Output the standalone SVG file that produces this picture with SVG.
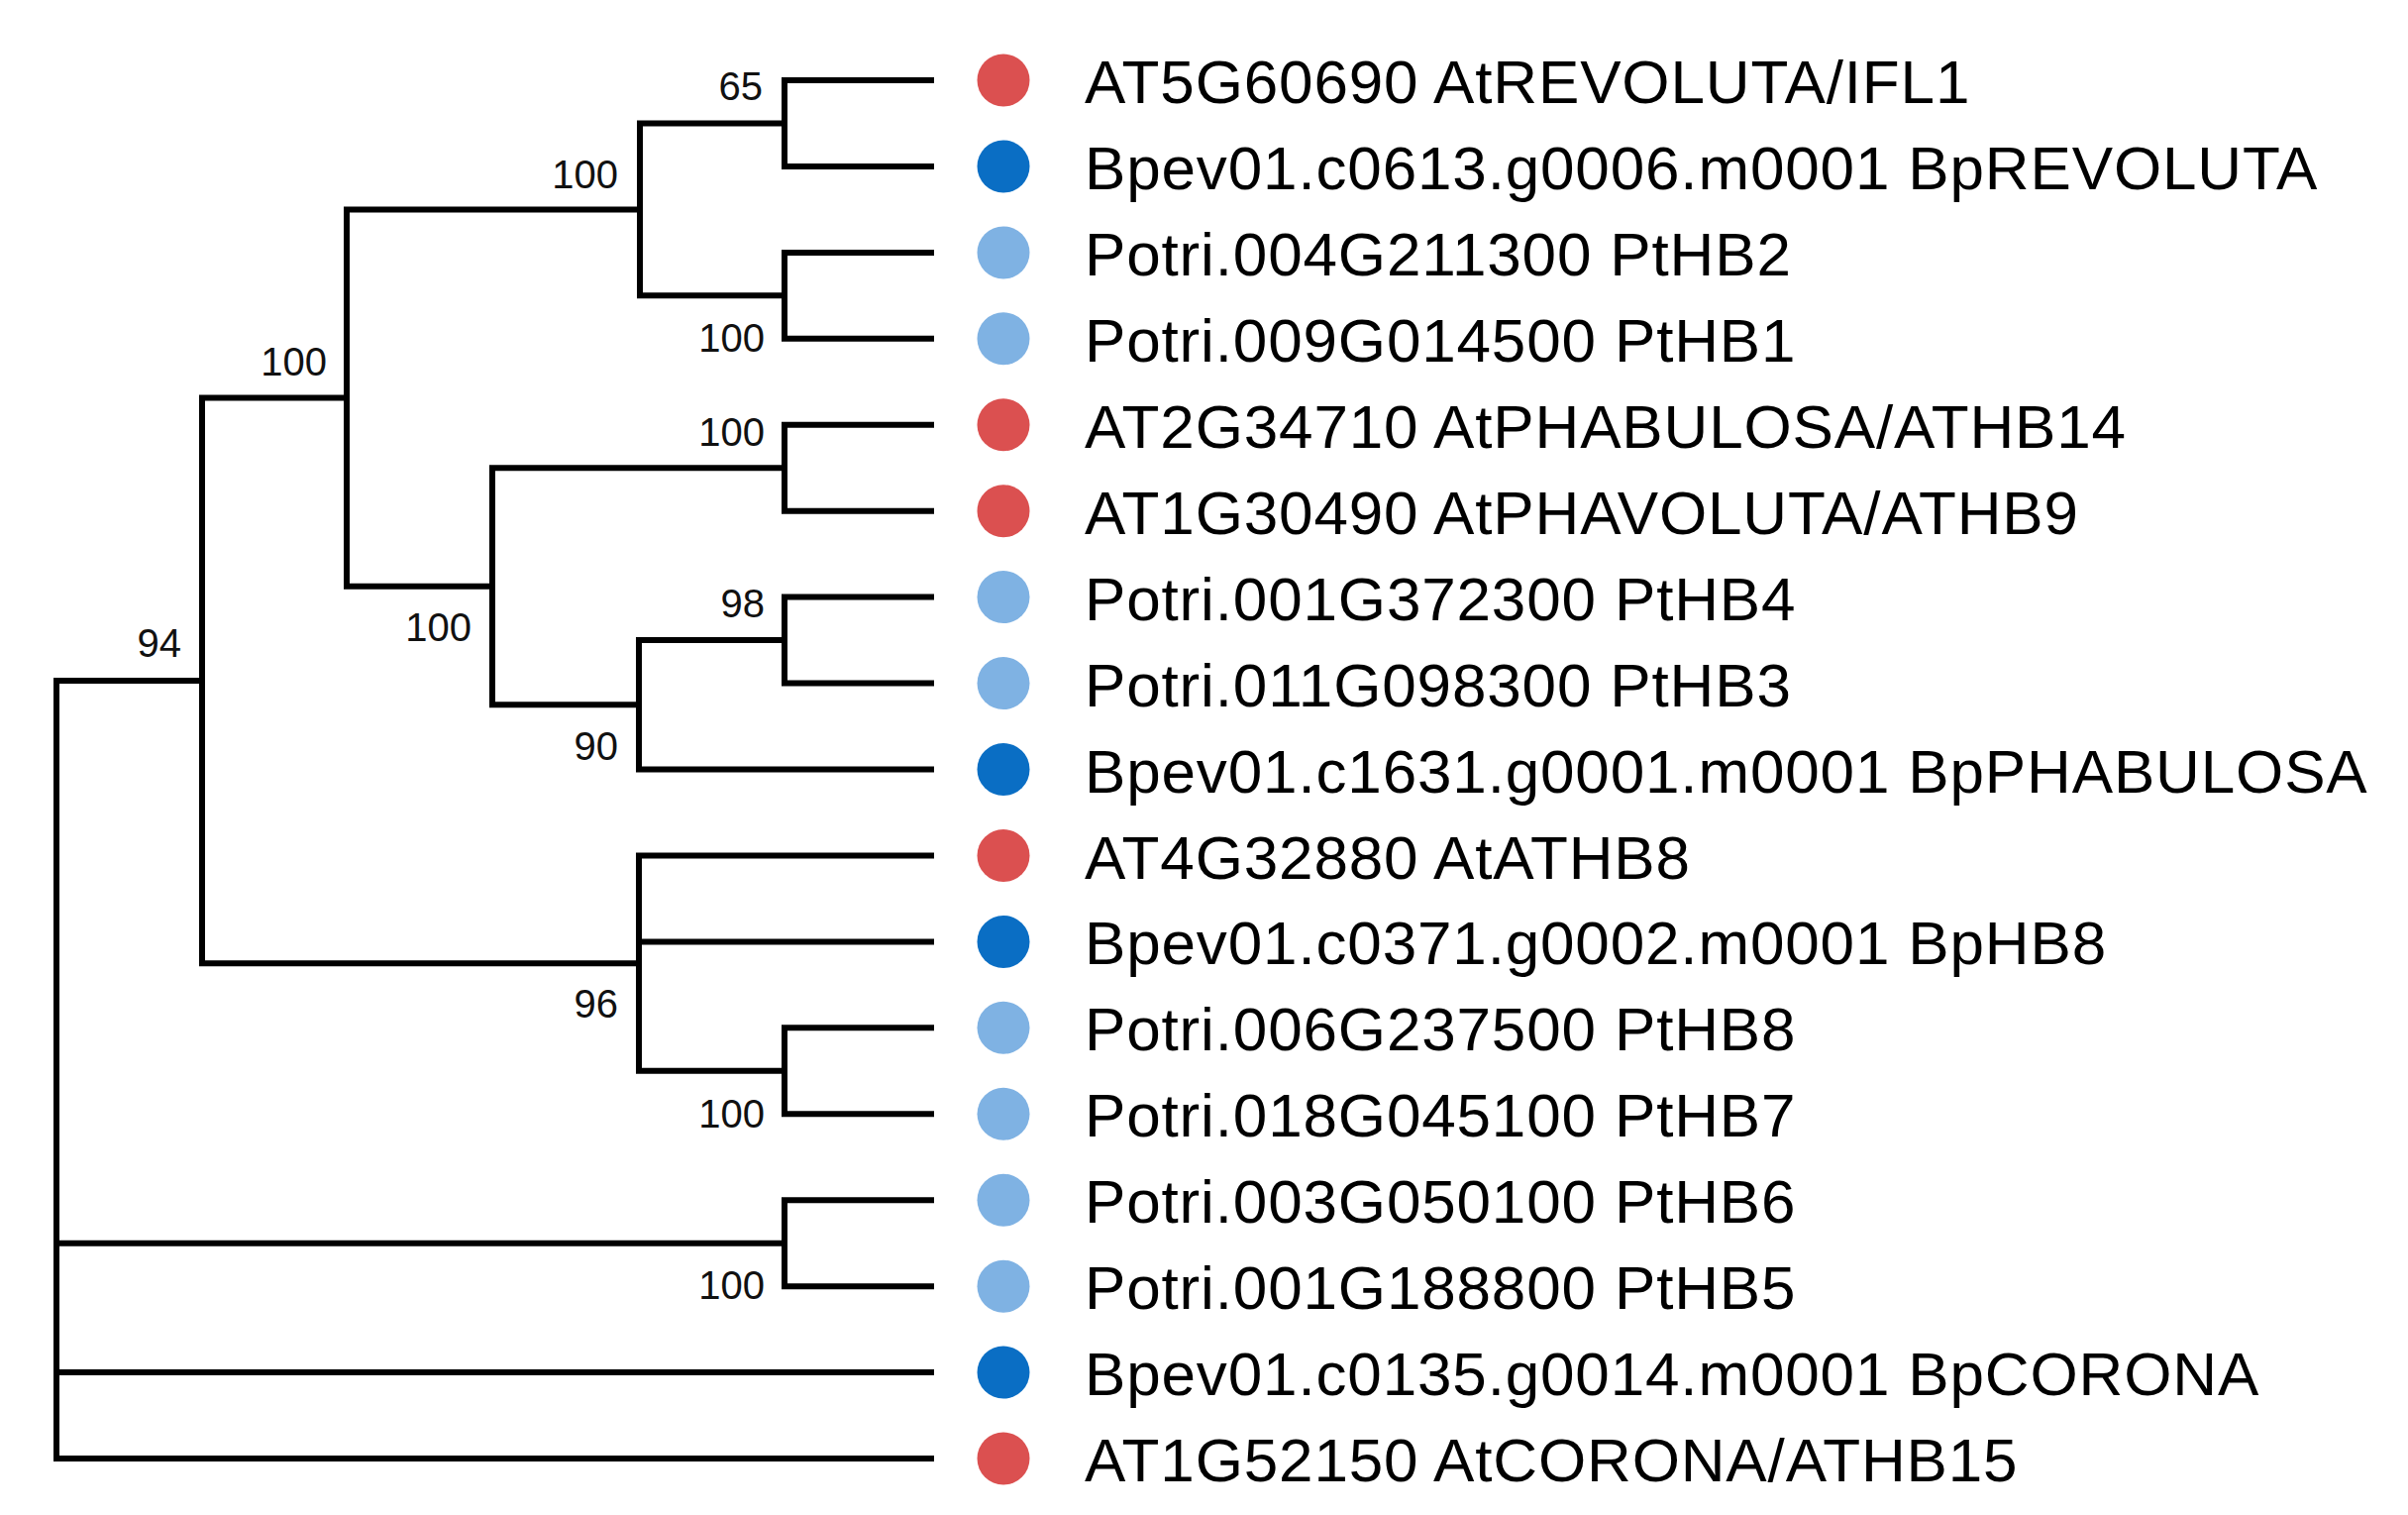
<svg xmlns="http://www.w3.org/2000/svg" width="2431" height="1529" viewBox="0 0 2431 1529">
<style>
.br{fill:none;stroke:#000;stroke-width:6;stroke-linecap:square;stroke-linejoin:miter}
.bs{font-family:"Liberation Sans",Arial,sans-serif;font-size:40px;fill:#111;text-anchor:end}
.lb{font-family:"Liberation Sans",Arial,sans-serif;font-size:62px;letter-spacing:0.85px;fill:#000}
.at{fill:#DB5050}
.bp{fill:#0A6EC4}
.pt{fill:#7FB2E3}
</style>
<rect width="2431" height="1529" fill="#fff"/>
<g id="connectors">
<path class="br" d="M792 81V167.9M792 81H940M792 167.9H940"/>
<path class="br" d="M792 254.9V341.8M792 254.9H940M792 341.8H940"/>
<path class="br" d="M646 124.45V298.35M646 124.45H792M646 298.35H792"/>
<path class="br" d="M792 428.8V515.7M792 428.8H940M792 515.7H940"/>
<path class="br" d="M792 602.6V689.6M792 602.6H940M792 689.6H940"/>
<path class="br" d="M645 646.1V776.5M645 646.1H792M645 776.5H940"/>
<path class="br" d="M497 472.25V711.3M497 472.25H792M497 711.3H645"/>
<path class="br" d="M350 211.4V591.8M350 211.4H646M350 591.8H497"/>
<path class="br" d="M792 1037.3V1124.3M792 1037.3H940M792 1124.3H940"/>
<path class="br" d="M645 863.5V1080.8M645 863.5H940M645 950.4H940M645 1080.8H792"/>
<path class="br" d="M204 401.6V972.15M204 401.6H350M204 972.15H645"/>
<path class="br" d="M792 1211.2V1298.2M792 1211.2H940M792 1298.2H940"/>
<path class="br" d="M57 686.9V1472M57 686.9H204M57 1254.7H792M57 1385.1H940M57 1472H940"/>
</g>
<g id="support">
<text class="bs" x="770" y="101">65</text>
<text class="bs" x="624" y="190">100</text>
<text class="bs" x="772" y="355">100</text>
<text class="bs" x="330" y="379">100</text>
<text class="bs" x="772" y="450">100</text>
<text class="bs" x="772" y="623">98</text>
<text class="bs" x="476" y="647">100</text>
<text class="bs" x="183" y="663">94</text>
<text class="bs" x="624" y="767">90</text>
<text class="bs" x="624" y="1027">96</text>
<text class="bs" x="772" y="1138">100</text>
<text class="bs" x="772" y="1311">100</text>
</g>
<g id="leaf1"><circle class="at" cx="1013" cy="81" r="26.5"/><text class="lb" x="1095" y="104">AT5G60690 AtREVOLUTA/IFL1</text></g>
<g id="leaf2"><circle class="bp" cx="1013" cy="167.9" r="26.5"/><text class="lb" x="1095" y="190.9">Bpev01.c0613.g0006.m0001 BpREVOLUTA</text></g>
<g id="leaf3"><circle class="pt" cx="1013" cy="254.9" r="26.5"/><text class="lb" x="1095" y="277.9">Potri.004G211300 PtHB2</text></g>
<g id="leaf4"><circle class="pt" cx="1013" cy="341.8" r="26.5"/><text class="lb" x="1095" y="364.8">Potri.009G014500 PtHB1</text></g>
<g id="leaf5"><circle class="at" cx="1013" cy="428.8" r="26.5"/><text class="lb" x="1095" y="451.8">AT2G34710 AtPHABULOSA/ATHB14</text></g>
<g id="leaf6"><circle class="at" cx="1013" cy="515.7" r="26.5"/><text class="lb" x="1095" y="538.7">AT1G30490 AtPHAVOLUTA/ATHB9</text></g>
<g id="leaf7"><circle class="pt" cx="1013" cy="602.6" r="26.5"/><text class="lb" x="1095" y="625.6">Potri.001G372300 PtHB4</text></g>
<g id="leaf8"><circle class="pt" cx="1013" cy="689.6" r="26.5"/><text class="lb" x="1095" y="712.6">Potri.011G098300 PtHB3</text></g>
<g id="leaf9"><circle class="bp" cx="1013" cy="776.5" r="26.5"/><text class="lb" x="1095" y="799.5">Bpev01.c1631.g0001.m0001 BpPHABULOSA</text></g>
<g id="leaf10"><circle class="at" cx="1013" cy="863.5" r="26.5"/><text class="lb" x="1095" y="886.5">AT4G32880 AtATHB8</text></g>
<g id="leaf11"><circle class="bp" cx="1013" cy="950.4" r="26.5"/><text class="lb" x="1095" y="973.4">Bpev01.c0371.g0002.m0001 BpHB8</text></g>
<g id="leaf12"><circle class="pt" cx="1013" cy="1037.3" r="26.5"/><text class="lb" x="1095" y="1060.3">Potri.006G237500 PtHB8</text></g>
<g id="leaf13"><circle class="pt" cx="1013" cy="1124.3" r="26.5"/><text class="lb" x="1095" y="1147.3">Potri.018G045100 PtHB7</text></g>
<g id="leaf14"><circle class="pt" cx="1013" cy="1211.2" r="26.5"/><text class="lb" x="1095" y="1234.2">Potri.003G050100 PtHB6</text></g>
<g id="leaf15"><circle class="pt" cx="1013" cy="1298.2" r="26.5"/><text class="lb" x="1095" y="1321.2">Potri.001G188800 PtHB5</text></g>
<g id="leaf16"><circle class="bp" cx="1013" cy="1385.1" r="26.5"/><text class="lb" x="1095" y="1408.1">Bpev01.c0135.g0014.m0001 BpCORONA</text></g>
<g id="leaf17"><circle class="at" cx="1013" cy="1472" r="26.5"/><text class="lb" x="1095" y="1495">AT1G52150 AtCORONA/ATHB15</text></g>
</svg>
